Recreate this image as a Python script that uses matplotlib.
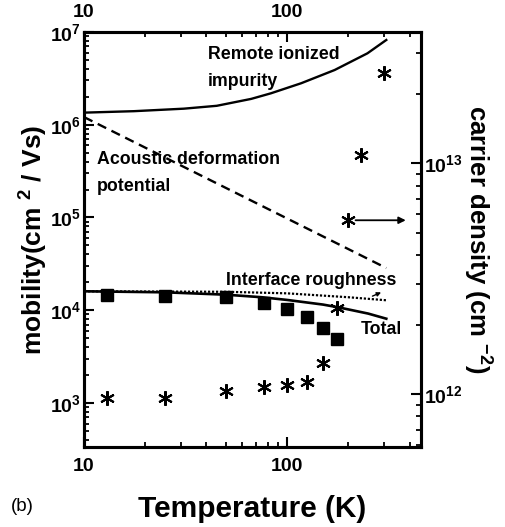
import numpy as np
import matplotlib
matplotlib.use("Agg")
import matplotlib.pyplot as plt
from matplotlib.ticker import LogLocator, FixedLocator, FuncFormatter, NullFormatter

plt.rcParams['font.family'] = ['Liberation Sans', 'DejaVu Sans']
plt.rcParams['font.weight'] = 'bold'
plt.rcParams['mathtext.fontset'] = 'custom'
plt.rcParams['mathtext.rm'] = 'Liberation Sans:bold'
plt.rcParams['mathtext.default'] = 'rm'

# measured points
T_meas = [13, 25, 50, 77, 100, 125, 150, 175]
mu_meas = [1.45e4, 1.42e4, 1.38e4, 1.19e4, 1.03e4, 8.4e3, 6.4e3, 4.9e3]

T_dens = [13, 25, 50, 77, 100, 125, 150, 175, 200, 230, 300]
n_dens = [9.6e11, 9.6e11, 1.03e12, 1.07e12, 1.10e12, 1.13e12, 1.36e12,
          2.36e12, 5.66e12, 1.08e13, 2.45e13]

# calculated scattering-limited mobilities
T_rii = [10, 17.6, 31, 45, 66.5, 83, 117, 171, 248, 307]
mu_rii = [1.35e6, 1.40e6, 1.49e6, 1.60e6, 1.90e6, 2.18e6, 2.80e6,
          3.89e6, 5.89e6, 8.2e6]

T_ac = [10, 307]
mu_ac = [1.21e6, 2.85e4]

T_ir = [10, 50, 100, 200, 307]
mu_ir = [1.6e4, 1.58e4, 1.52e4, 1.38e4, 1.28e4]

T_tot = [10, 25, 50, 75, 100, 150, 180, 250, 307]
mu_tot = [1.6e4, 1.56e4, 1.47e4, 1.38e4, 1.29e4, 1.15e4, 1.07e4, 9.2e3, 8.1e3]

fig = plt.figure(figsize=(5.05, 5.27), dpi=100)
ax = fig.add_axes([0.1663, 0.1518, 0.6674, 0.7875])
ax2 = ax.twinx()

ax.set_xscale('log')
ax.set_yscale('log')
ax2.set_yscale('log')
ax.set_xlim(10, 455)
ax.set_ylim(335, 1e7)
ax2.set_ylim(5.9e11, 3.7e13)

ax.plot(T_rii, mu_rii, color='black', lw=1.7)
ax.plot(T_ac, mu_ac, color='black', lw=1.7, ls=(0, (4, 2.5)))
ax.plot(T_ir, mu_ir, color='black', lw=1.6, ls=(0, (1, 0.8)))
ax.plot(T_tot, mu_tot, color='black', lw=1.9)
ax.plot(T_meas, mu_meas, ls='none', marker='s', ms=8.5, color='black')
ax2.plot(T_dens, n_dens, ls='none', marker=(6, 2, 0), ms=10.5, mew=1.5,
         color='black')

ax2.annotate('', xy=(395, 5.66e12), xytext=(210, 5.66e12),
             arrowprops=dict(arrowstyle='-|>', color='black', lw=1.3,
                             mutation_scale=10))
ax.annotate('', xy=(298, 1.6e4), xytext=(255, 1.38e4),
            arrowprops=dict(arrowstyle='-|>', color='black', lw=1.0,
                            mutation_scale=6))

ann = dict(fontsize=12.8, fontweight='bold', ha='left', va='center')
ax.text(40.8, 4.1e6, 'Remote ionized\nimpurity', linespacing=1.75, **ann)
ax.text(11.6, 3.0e5, 'Acoustic deformation\npotential', linespacing=1.75, **ann)
ax.text(50, 2.1e4, 'Interface roughness', **ann)
ax.text(229, 6.2e3, 'Total', **ann)

def pow_fmt(v, pos):
    e = int(round(np.log10(v)))
    return r'$10^{%d}$' % e

ax.xaxis.set_major_locator(FixedLocator([10, 100]))
ax.xaxis.set_major_formatter(FuncFormatter(lambda v, p: '%d' % v))
ax.xaxis.set_minor_locator(LogLocator(base=10, subs=np.arange(2, 10)))
ax.xaxis.set_minor_formatter(NullFormatter())
ax.yaxis.set_major_locator(LogLocator(base=10, numticks=10))
ax.yaxis.set_major_formatter(FuncFormatter(pow_fmt))
ax.yaxis.set_minor_locator(LogLocator(base=10, subs=np.arange(2, 10), numticks=20))
ax.yaxis.set_minor_formatter(NullFormatter())
ax2.yaxis.set_major_locator(LogLocator(base=10, numticks=10))
ax2.yaxis.set_major_formatter(FuncFormatter(pow_fmt))
ax2.yaxis.set_minor_locator(LogLocator(base=10, subs=np.arange(2, 10), numticks=20))
ax2.yaxis.set_minor_formatter(NullFormatter())

ax.tick_params(axis='x', which='both', direction='in', top=True, labeltop=True,
               labelsize=14, pad=8)
ax.tick_params(axis='y', which='both', direction='in', right=False,
               labelsize=14, pad=2)
ax2.tick_params(axis='y', which='both', direction='in', labelsize=14, pad=2)
for a in (ax, ax2):
    a.tick_params(which='major', length=7, width=1.5)
    a.tick_params(which='minor', length=3.5, width=1.3)
    for s in a.spines.values():
        s.set_linewidth(2.2)

ax.set_xlabel('Temperature (K)', fontsize=21.5, fontweight='bold', labelpad=14)
ax.set_ylabel(r'mobility(cm $^{2}$ / Vs)', fontsize=19, fontweight='bold',
              labelpad=0)
ax2.set_ylabel(r'carrier density (cm $^{-2}$)', fontsize=18.5,
               fontweight='bold', rotation=270, labelpad=22)

fig.text(0.022, 0.03, '(b)', fontsize=13.5, fontweight='normal')

fig.savefig('out.png', dpi=100)
